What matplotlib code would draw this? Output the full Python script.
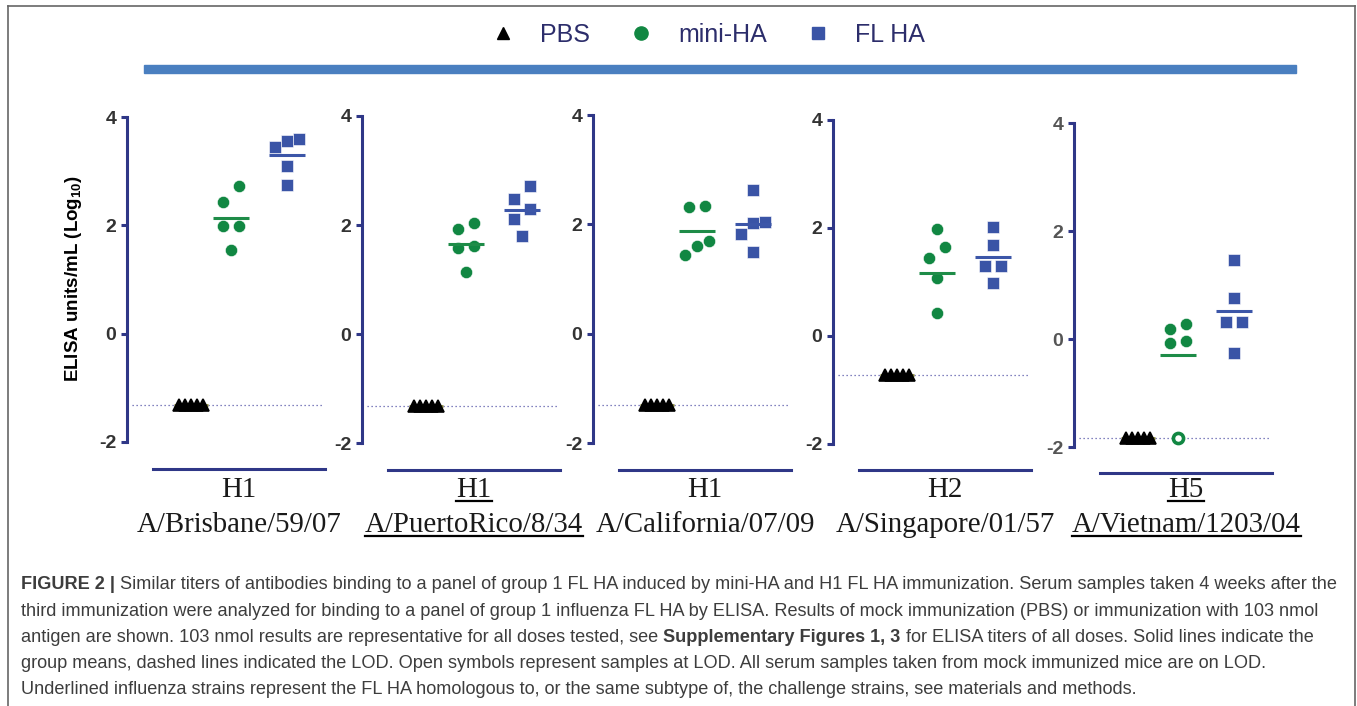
import numpy as np
import matplotlib
matplotlib.use("Agg")
import matplotlib.pyplot as plt
from matplotlib.lines import Line2D
from matplotlib.patches import Rectangle

# ---------------- data ----------------
group_names = ["PBS", "mini-HA", "FL HA"]
subtypes = ["H1", "H1", "H1", "H2", "H5"]
strains = ["A/Brisbane/59/07", "A/PuertoRico/8/34", "A/California/07/09",
           "A/Singapore/01/57", "A/Vietnam/1203/04"]
underlined = [False, True, False, False, True]
lod = [-1.31, -1.32, -1.30, -0.72, -1.83]

pbs_values = [
    [-1.31, -1.31, -1.31, -1.31, -1.31],
    [-1.32, -1.32, -1.32, -1.32, -1.32],
    [-1.30, -1.30, -1.30, -1.30, -1.30],
    [-0.72, -0.72, -0.72, -0.72, -0.72],
    [-1.83, -1.83, -1.83, -1.83, -1.83],
]
mini_values = [
    [2.72, 2.43, 1.99, 1.99, 1.54],
    [2.03, 1.92, 1.61, 1.58, 1.14],
    [2.34, 2.31, 1.70, 1.60, 1.44],
    [1.99, 1.65, 1.45, 1.07, 0.43],
    [0.28, 0.18, -0.04, -0.07, -1.83],
]
fl_values = [
    [3.60, 3.55, 3.45, 3.10, 2.75],
    [2.72, 2.48, 2.29, 2.11, 1.79],
    [2.62, 2.04, 2.03, 1.83, 1.50],
    [2.01, 1.68, 1.30, 1.30, 0.99],
    [1.47, 0.76, 0.32, 0.32, -0.26],
]
pbs_means = [-1.31, -1.32, -1.30, -0.72, -1.83]
mini_means = [2.14, 1.66, 1.87, 1.17, -0.30]
fl_means = [3.30, 2.28, 2.01, 1.46, 0.52]

y_ticks = [-2, 0, 2, 4]
y_tick_labels = ["-2", "0", "2", "4"]
y_label = "ELISA units/mL (Log$_{\\mathbf{10}}$)"

caption_lines = [
    [("FIGURE 2 |", "bold"),
     ("Similar titers of antibodies binding to a panel of group 1 FL HA induced by mini-HA and H1 FL HA immunization. Serum samples taken 4 weeks after the", "normal")],
    [("third immunization were analyzed for binding to a panel of group 1 influenza FL HA by ELISA. Results of mock immunization (PBS) or immunization with 103 nmol", "normal")],
    [("antigen are shown. 103 nmol results are representative for all doses tested, see", "normal"),
     ("Supplementary Figures 1, 3", "bold"),
     ("for ELISA titers of all doses. Solid lines indicate the", "normal")],
    [("group means, dashed lines indicated the LOD. Open symbols represent samples at LOD. All serum samples taken from mock immunized mice are on LOD.", "normal")],
    [("Underlined influenza strains represent the FL HA homologous to, or the same subtype of, the challenge strains, see materials and methods.", "normal")],
]

# ---------------- style / layout ----------------
W, H, DPI = 1357, 706, 100
plt.rcParams["font.family"] = ["Liberation Sans", "DejaVu Sans"]
plt.rcParams["mathtext.fontset"] = "custom"
plt.rcParams["mathtext.rm"] = "Liberation Sans"
plt.rcParams["mathtext.bf"] = "Liberation Sans:bold"

AXC = "#2f3787"
GREEN = "#118742"
BLUE = "#3a54a6"
green_mean = "#1e8c48"
blue_mean = "#3c56a8"
colors = [("black", "^", 8.3), (GREEN, "o", 8.8), (BLUE, "s", 8.4)]
mean_colors = ["#8c8c3c", green_mean, blue_mean]
tick_colors = ["#333333", "#333333", "#333333", "#333333", "#555555"]

axis_x = [127, 362, 593, 833, 1074]
top_px = [117, 116, 115, 120, 123]
bot_px = [442, 443, 443, 444, 447]
group_x = [0.0, 1.0, 2.4]
PX_PER_X = 40.0
XMIN, XMAX = -1.6, 3.4
YMIN, YMAX = -2.49, 4.0


def fx(x):
    return x / W


def fy(y):
    return 1 - y / H


def swarm_offsets(vals, scale_px, bin_px=16.0, max_span=24.0, pair_gap=16.0):
    vals = list(vals)
    n = len(vals)
    order = sorted(range(n), key=lambda i: -vals[i])
    rows = []
    for i in order:
        if rows and (vals[rows[-1][0]] - vals[i]) * scale_px < bin_px:
            rows[-1].append(i)
        else:
            rows.append([i])
    off = np.zeros(n)
    for r in rows:
        m = len(r)
        if m == 1:
            continue
        sp = min(pair_gap, max_span / (m - 1))
        rs = sorted(r, key=lambda i: vals[i])
        for k, i in enumerate(rs):
            off[i] = (k - (m - 1) / 2.0) * sp
    return off


fig = plt.figure(figsize=(W / DPI, H / DPI), dpi=DPI)
fig.patch.set_facecolor("white")

axes = []
for i in range(5):
    s = (bot_px[i] - top_px[i]) / 6.0
    ybot = bot_px[i] + (-2 - YMIN) * s
    ax = fig.add_axes([fx(axis_x[i]), fy(ybot), (XMAX - XMIN) * PX_PER_X / W,
                       (ybot - top_px[i]) / H])
    axes.append(ax)
    ax.set_xlim(XMIN, XMAX)
    ax.set_ylim(YMIN, YMAX)
    ax.patch.set_alpha(0)
    for sp in ["top", "right"]:
        ax.spines[sp].set_visible(False)
    for sp in ["left", "bottom"]:
        ax.spines[sp].set_color(AXC)
        ax.spines[sp].set_linewidth(2.2)
    ax.spines["left"].set_bounds(-2, 4)
    ax.spines["bottom"].set_bounds(-0.95, 3.35)
    ax.set_xticks([])
    ax.set_yticks(y_ticks, labels=y_tick_labels)
    ax.tick_params(axis="y", direction="out", length=4.5, width=2.2, color=AXC,
                   pad=3.2, labelsize=14, labelcolor=tick_colors[i])
    for lb in ax.get_yticklabels():
        lb.set_fontweight("bold")

    # LOD dotted line
    ax.plot([-1.48, 3.3], [lod[i], lod[i]], ls=(0, (1, 2.2)), color="#5b5bab",
            lw=0.9, zorder=1)

    datasets = [pbs_values[i], mini_values[i], fl_values[i]]
    means = [pbs_means[i], mini_means[i], fl_means[i]]
    for g in range(3):
        col, mk, ms = colors[g]
        v = np.array(datasets[g])
        offs = swarm_offsets(v, s) / PX_PER_X
        xs = group_x[g] + offs
        if g == 0:
            ax.plot([group_x[g] - 0.42, group_x[g] + 0.42], [means[g]] * 2,
                    color=mean_colors[g], lw=2.0, zorder=2, solid_capstyle="butt")
            ax.plot(xs, v, ls="none", marker=mk, ms=ms, mfc=col, mec=col,
                    mew=1.2, zorder=3)
        else:
            at_lod = np.isclose(v, lod[i])
            ax.plot(xs[~at_lod], v[~at_lod], ls="none", marker=mk, ms=ms,
                    mfc=col, mec="white", mew=0.4, zorder=3)
            if at_lod.any():
                ax.plot(xs[at_lod], v[at_lod], ls="none", marker=mk, ms=ms - 1.5,
                        mfc="white", mec=col, mew=2.6, zorder=3)
            ax.plot([group_x[g] - 0.45, group_x[g] + 0.45], [means[g]] * 2,
                    color=mean_colors[g], lw=2.2, zorder=4, solid_capstyle="butt")

# y label
fig.text(fx(74), fy(279), y_label, rotation=90, ha="center", va="center",
         fontsize=13.5, fontweight="bold", color="black")

# legend
handles = [Line2D([], [], ls="none", marker="^", color="black", ms=9),
           Line2D([], [], ls="none", marker="o", color=GREEN, ms=9.5),
           Line2D([], [], ls="none", marker="s", color=BLUE, ms=9)]
leg = fig.legend(handles, group_names, loc="center", ncol=3, frameon=False,
                 bbox_to_anchor=(fx(708), fy(35)), prop={"size": 18},
                 handlelength=1.0, handletextpad=0.98, columnspacing=1.54)
for t in leg.get_texts():
    t.set_color("#2c2d6b")

# blue bar below legend
fig.patches.append(Rectangle((fx(144), fy(73)), (1296 - 144) / W, 8 / H,
                             transform=fig.transFigure, color="#4a7fc0", zorder=0))

# outer frame (left, top, right)
frame_col = "#666666"
for xs_, ys_ in [([8, 8], [6, 720]), ([8, 1355], [6, 6]), ([1355, 1355], [6, 720])]:
    fig.add_artist(Line2D([fx(x) for x in xs_], [fy(y) for y in ys_],
                          transform=fig.transFigure, color=frame_col, lw=1.2))

# strain labels
label_texts = []
for i, ax in enumerate(axes):
    cx = ax.transData.transform((1.2, 0))[0]
    t1 = fig.text(fx(cx), fy(497), subtypes[i], ha="center", va="baseline",
                  family="Liberation Serif", fontsize=20.8, color="#1a1a1a")
    t2 = fig.text(fx(cx), fy(532), strains[i], ha="center", va="baseline",
                  family="Liberation Serif", fontsize=20.8, color="#1a1a1a")
    label_texts.append((t1, 497, t2, 532))

fig.canvas.draw()
renderer = fig.canvas.get_renderer()

for i, (t1, b1, t2, b2) in enumerate(label_texts):
    if underlined[i]:
        for t, b in [(t1, b1), (t2, b2)]:
            bb = t.get_window_extent(renderer)
            fig.add_artist(Line2D([fx(bb.x0), fx(bb.x1)], [fy(b + 4), fy(b + 4)],
                                  transform=fig.transFigure, color="black", lw=1.6))

# caption
CAP_FONT = "Liberation Sans"
CAP_COL = "#3d3d3d"


def measure(s, size, weight):
    t = fig.text(0, 0, s, fontsize=size, fontweight=weight, family=CAP_FONT)
    w = t.get_window_extent(renderer).width
    t.remove()
    return w


base = 10.0
space = measure("x x", base, "normal") - measure("xx", base, "normal")
w1 = sum(measure(s, base, wt) for s, wt in caption_lines[0]) + space * (len(caption_lines[0]) - 1)
cap_size = base * (1345 - 21) / w1
space = space * cap_size / base

baselines = [589, 616, 642, 668, 694]
for line, yb in zip(caption_lines, baselines):
    x = 21.0
    for k, (s, wt) in enumerate(line):
        t = fig.text(fx(x), fy(yb), s, fontsize=cap_size, fontweight=wt,
                     family=CAP_FONT, color=CAP_COL, va="baseline", ha="left")
        x += t.get_window_extent(renderer).width + space

fig.savefig("out.png", dpi=DPI, facecolor="white")
